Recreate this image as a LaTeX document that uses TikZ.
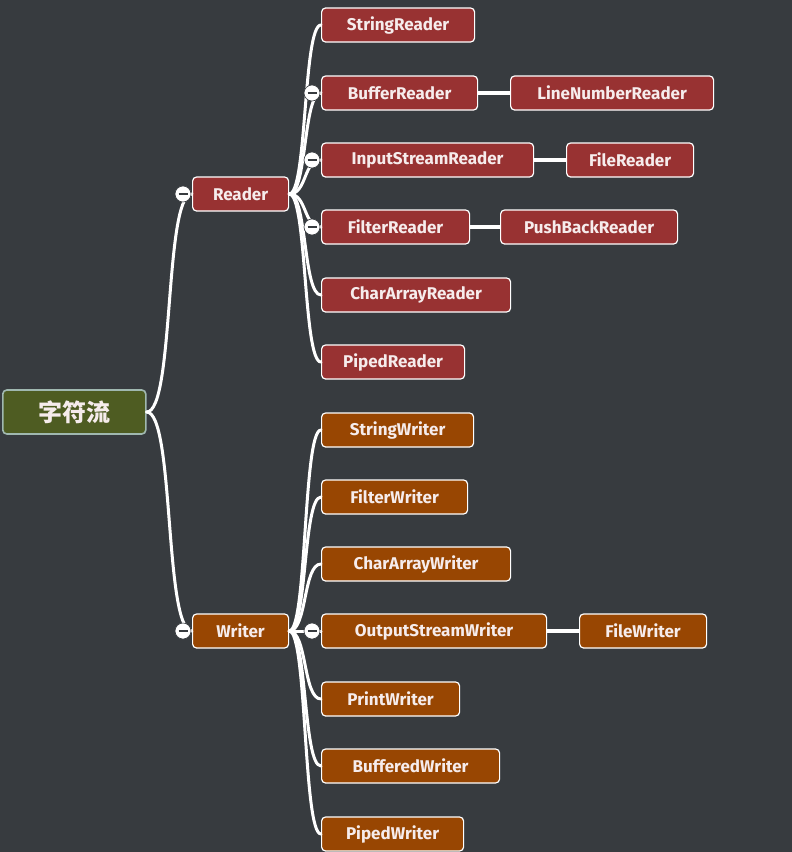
\documentclass[tikz,border=0pt]{standalone}
\usepackage{fontspec}
\setmainfont{Fira Sans}
\newfontfamily\cjk{Noto Sans CJK SC}
\definecolor{bgcol}{RGB}{55,59,63}
\definecolor{readercol}{RGB}{152,50,50}
\definecolor{writercol}{RGB}{152,70,2}
\definecolor{rootcol}{RGB}{78,92,34}
\definecolor{rootedge}{RGB}{160,184,176}
\definecolor{txtcol}{RGB}{246,236,236}
\tikzset{
  box/.style={draw=white, line width=1.2pt, rounded corners=4pt, minimum height=34pt,
    inner sep=0pt, anchor=west, text=txtcol, font=\fontsize{17}{20}\selectfont\bfseries},
  rbox/.style={box, fill=readercol},
  wbox/.style={box, fill=writercol},
  rootbox/.style={box, fill=rootcol, draw=rootedge, line width=1.6pt, minimum height=44pt,
    font=\cjk\fontsize{24}{28}\selectfont\bfseries},
  branch/.style={draw=white, line width=3pt, line cap=round},
  link/.style={draw=white, line width=4pt},
  fold/.style={circle, fill=white, draw=bgcol, line width=0.6pt, minimum size=16pt, inner sep=0pt,
    path picture={\draw[bgcol, line width=1.2pt]
      ([xshift=-4.5pt]path picture bounding box.center) -- ([xshift=4.5pt]path picture bounding box.center);}}
}
\begin{document}
\begin{tikzpicture}[x=1pt, y=-1pt]
  \fill[bgcol] (0,0) rectangle (792,852);
  \useasboundingbox (0,0) rectangle (792,852);
  % root and the two main branches
  \node[rootbox, minimum width=143pt] (root) at (2,412) {字符流};
  \node[rbox, minimum width=96pt] (reader) at (192,194) {Reader};
  \node[wbox, minimum width=96pt] (writer) at (192,631) {Writer};
  \draw[branch] (root.east) .. controls +(28,0) and +(-28,0) .. (reader.west);
  \draw[branch] (root.east) .. controls +(28,0) and +(-28,0) .. (writer.west);
  % reader children
  \foreach \n/\y/\w in {StringReader/25/153, BufferReader/93/156, InputStreamReader/160/212,
      FilterReader/227/148, CharArrayReader/295/189, PipedReader/362/143} {
    \node[rbox, minimum width=\w pt] (\n) at (321,\y) {\n};
    \draw[branch] (reader.east) .. controls +(18,0) and +(-18,0) .. (\n.west);
  }
  % writer children
  \foreach \n/\y/\w in {StringWriter/430/152, FilterWriter/497/146, CharArrayWriter/564/189,
      OutputStreamWriter/631/225, PrintWriter/699/138, BufferedWriter/766/178, PipedWriter/834/142} {
    \node[wbox, minimum width=\w pt] (\n) at (321,\y) {\n};
    \draw[branch] (writer.east) .. controls +(18,0) and +(-18,0) .. (\n.west);
  }
  % third level
  \node[rbox, minimum width=203pt] (LineNumberReader) at (510,93) {LineNumberReader};
  \node[rbox, minimum width=127pt] (FileReader) at (566,160) {FileReader};
  \node[rbox, minimum width=177pt] (PushBackReader) at (500,227) {PushBackReader};
  \node[wbox, minimum width=127pt] (FileWriter) at (579,631) {FileWriter};
  \draw[link] (BufferReader.east) -- (LineNumberReader.west);
  \draw[link] (InputStreamReader.east) -- (FileReader.west);
  \draw[link] (FilterReader.east) -- (PushBackReader.west);
  \draw[link] (OutputStreamWriter.east) -- (FileWriter.west);
  % fold markers
  \foreach \n in {reader, writer, BufferReader, InputStreamReader, FilterReader, OutputStreamWriter}
    \node[fold] (fold-\n) at ([xshift=-9pt]\n.west) {};
\end{tikzpicture}
\end{document}
